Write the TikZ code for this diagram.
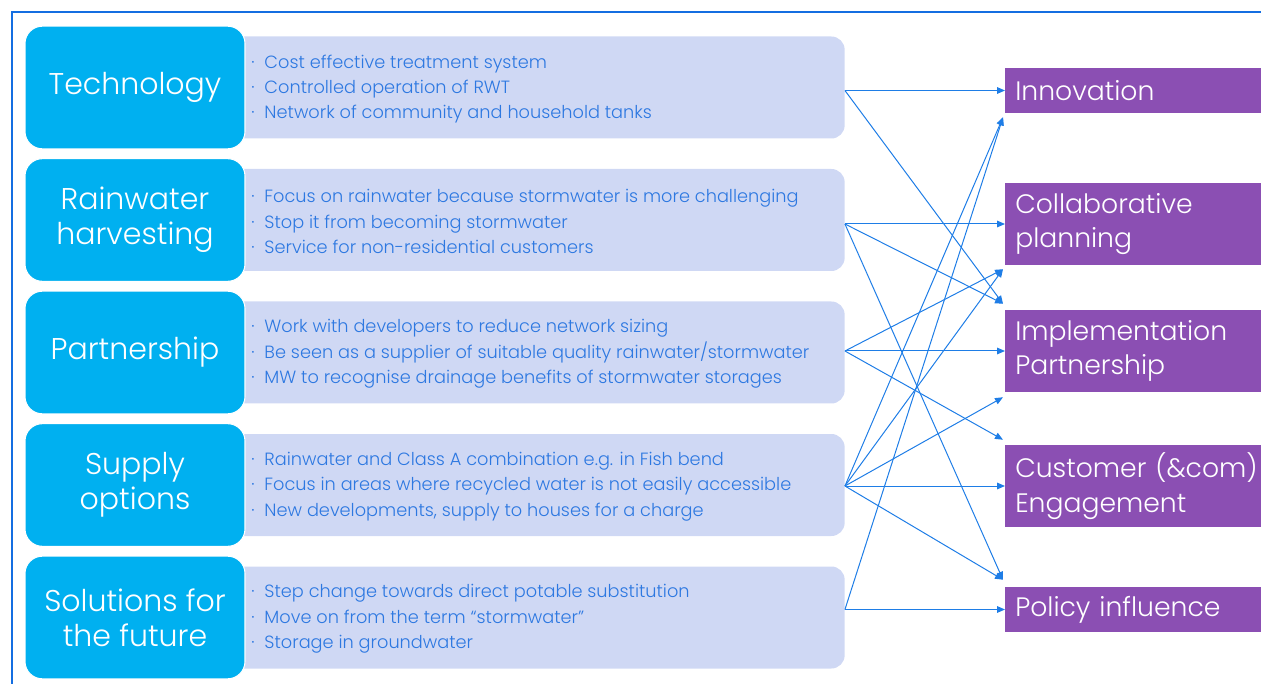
\documentclass[tikz,border=0pt]{standalone}
\usepackage{fontspec}
\setmainfont{Poppins}[UprightFont=* Light]
\usetikzlibrary{arrows.meta,calc}
\definecolor{topicblue}{RGB}{0,176,240}
\definecolor{lavender}{RGB}{207,216,244}
\definecolor{outpurple}{RGB}{139,79,179}
\definecolor{linkblue}{RGB}{30,125,230}
\definecolor{textblue}{RGB}{45,120,225}
\definecolor{frameblue}{RGB}{20,110,225}
\newcommand{\dotitem}[1]{\textperiodcentered\hspace{7.5pt}#1}

\begin{document}
\begin{tikzpicture}[x=0.75pt,y=-0.75pt,
    topic/.style={fill=topicblue, draw=white, line width=0.8pt, rounded corners=13pt,
      minimum width=165pt, minimum height=92pt, text=white, align=center,
      font=\fontsize{22.5}{26}\selectfont},
    detail/.style={fill=lavender, rounded corners=10pt, minimum width=472pt, minimum height=76.5pt},
    bullets/.style={anchor=west, text=textblue, align=left, inner sep=0pt,
      font=\fontsize{13.3}{19}\selectfont},
    outcome/.style={fill=outpurple, text=white, anchor=west, align=left, text width=220pt,
      inner xsep=7.5pt, inner ysep=0pt, font=\fontsize{20}{26}\selectfont},
    link/.style={linkblue, line width=0.75pt, -{Triangle[length=6pt,width=5pt]}}]
    \useasboundingbox (0,0) rectangle (1261,684);
    \draw[frameblue, line width=2.2pt] (1261,12) -- (12,12) -- (12,684);

    % bullet panels
    \node[detail] (techd) at (530,87.5) {};
    \node[detail] (raind) at (530,220) {};
    \node[detail] (partd) at (530,352.5) {};
    \node[detail] (suppd) at (530,485) {};
    \node[detail] (sold) at (530,617.5) {};

    % topics
    \node[topic] (tech) at (135,87.5) {Technology};
    \node[topic] (rain) at (135,220) {Rainwater\\harvesting};
    \node[topic] (part) at (135,352.5) {Partnership};
    \node[topic] (supp) at (135,485) {Supply\\options};
    \node[topic] (sol) at (135,617.5) {Solutions for\\the future};

    \node[bullets] (techt) at (251,89) {\dotitem{Cost effective treatment system}\\
      \dotitem{Controlled operation of RWT}\\\dotitem{Network of community and household tanks}};
    \node[bullets] (raint) at (251,221.5) {\dotitem{Focus on rainwater because stormwater is more challenging}\\
      \dotitem{Stop it from becoming stormwater}\\\dotitem{Service for non-residential customers}};
    \node[bullets] (partt) at (251,354) {\dotitem{Work with developers to reduce network sizing}\\
      \dotitem{Be seen as a supplier of suitable quality rainwater/stormwater}\\
      \dotitem{MW to recognise drainage benefits of stormwater storages}};
    \node[bullets] (suppt) at (251,486.5) {\dotitem{Rainwater and Class A combination e.g. in Fish bend}\\
      \dotitem{Focus in areas where recycled water is not easily accessible}\\
      \dotitem{New developments, supply to houses for a charge}};
    \node[bullets] (solt) at (251,619) {\dotitem{Step change towards direct potable substitution}\\
      \dotitem{Move on from the term “stormwater”}\\\dotitem{Storage in groundwater}};

    % outcomes
    \node[outcome, minimum height=33.75pt] (innov) at (1005,90.5) {Innovation};
    \node[outcome, minimum height=61.5pt] (collab) at (1005,224) {Collaborative\\planning};
    \node[outcome, minimum height=61.5pt] (impl) at (1005,351) {Implementation\\Partnership};
    \node[outcome, minimum height=61.5pt] (cust) at (1005,486) {Customer (\&com)\\Engagement};
    \node[outcome, minimum height=33.75pt] (policy) at (1005,609.5) {Policy influence};

    % link ends
    \coordinate (techo) at (techd.east |- innov.west);
    \coordinate (raino) at (raind.east |- collab.west);
    \coordinate (parto) at (partd.east |- impl.west);
    \coordinate (suppo) at (suppd.east |- cust.west);
    \coordinate (solo) at (sold.east |- policy.west);
    \coordinate (innovb) at ($(innov.south west)+(-2,4)$);
    \coordinate (collabb) at ($(collab.south west)+(-2,4)$);
    \coordinate (implt) at ($(impl.north west)+(-2,-6)$);
    \coordinate (implb) at ($(impl.south west)+(-2,5)$);
    \coordinate (custt) at ($(cust.north west)+(-2,-5)$);
    \coordinate (policyt) at ($(policy.north west)+(-2,-7)$);

    \draw[link] (techo) -- (innov.west);
    \draw[link] (techo) -- (implt);
    \draw[link] (raino) -- (collab.west);
    \draw[link] (raino) -- (implt);
    \draw[link] (raino) -- (policyt);
    \draw[link] (parto) -- (impl.west);
    \draw[link] (parto) -- (collabb);
    \draw[link] (parto) -- (custt);
    \draw[link] (suppo) -- (innovb);
    \draw[link] (suppo) -- (collabb);
    \draw[link] (suppo) -- (implb);
    \draw[link] (suppo) -- (cust.west);
    \draw[link] (suppo) -- (policyt);
    \draw[link] (solo) -- (policy.west);
    \draw[link] (solo) -- (innovb);
\end{tikzpicture}
\end{document}
